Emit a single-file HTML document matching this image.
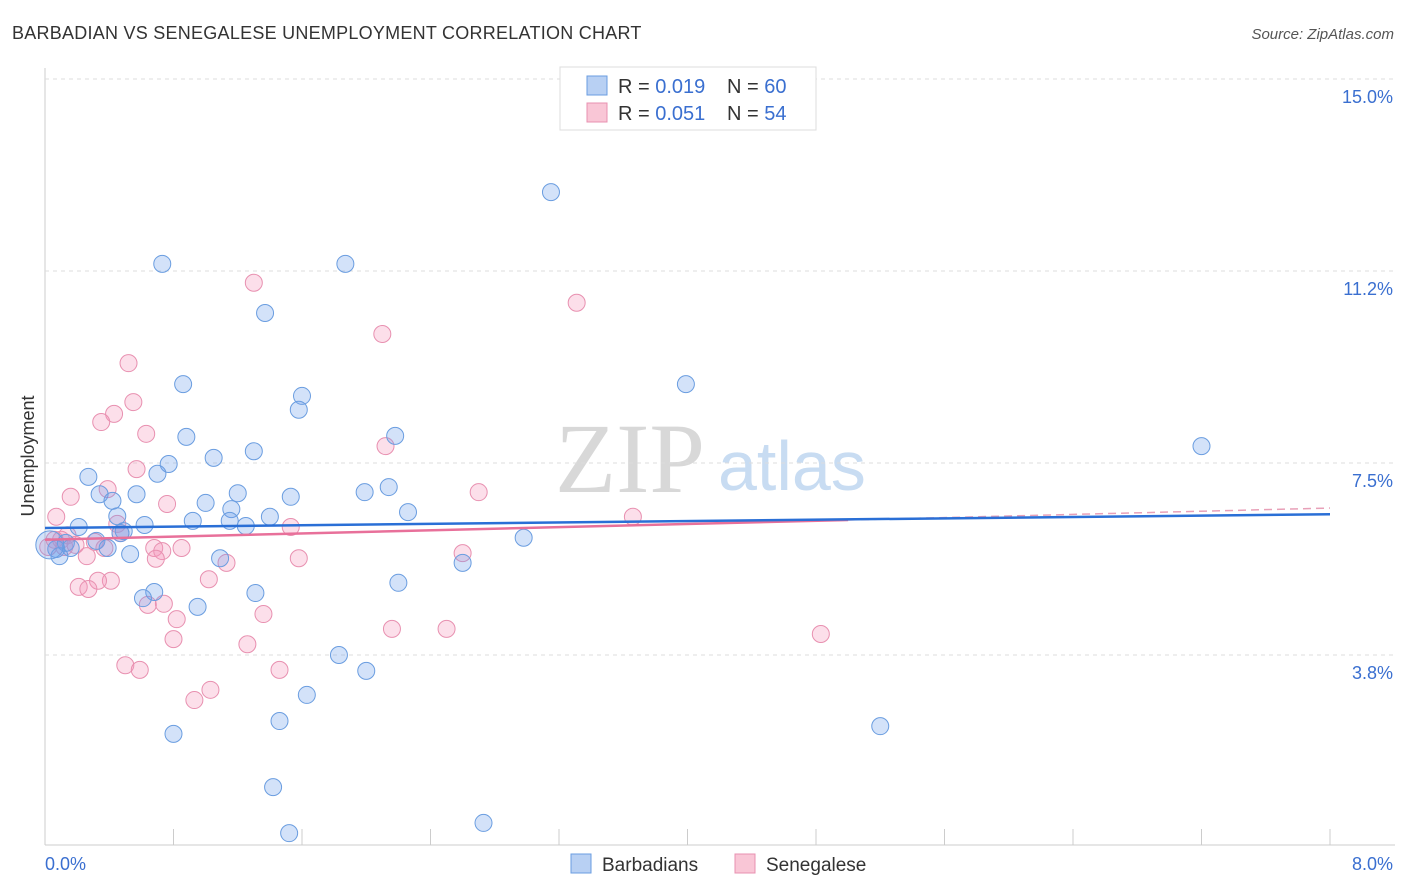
<!DOCTYPE html>
<html><head><meta charset="utf-8">
<style>
body{margin:0;background:#fff;font-family:"Liberation Sans",sans-serif;}
#wrap{position:relative;width:1406px;height:892px;overflow:hidden;}
</style></head>
<body>
<div id="wrap">
<svg id="chart" width="1406" height="892" xmlns="http://www.w3.org/2000/svg">
<text x="12" y="39" font-size="18" fill="#333" letter-spacing="0.25">BARBADIAN VS SENEGALESE UNEMPLOYMENT CORRELATION CHART</text>
<text x="1394" y="39" font-size="15" fill="#555" font-style="italic" text-anchor="end">Source: ZipAtlas.com</text>
<text x="555" y="492" font-size="100" fill="#d8d8d8" font-family="Liberation Serif,serif">ZIP</text>
<text x="718" y="490" font-size="70" fill="#c8dcf2">atlas</text>
<text x="34" y="456" font-size="18" fill="#333" transform="rotate(-90 34 456)" text-anchor="middle">Unemployment</text>
<g id="grid"></g><g id="ticks"></g><g id="pts"></g><g id="trend"></g>
<g>
<rect x="560" y="67" width="256" height="63" fill="#fff" stroke="#ddd"/>
<rect x="587" y="76" width="20" height="19" fill="#b8d0f3" stroke="#6a9de0"/>
<rect x="587" y="103" width="20" height="19" fill="#f9c6d6" stroke="#e890b0"/>
<text x="618" y="93" font-size="20" fill="#333">R = <tspan fill="#3a6fd0">0.019</tspan></text>
<text x="727" y="93" font-size="20" fill="#333">N = <tspan fill="#3a6fd0">60</tspan></text>
<text x="618" y="120" font-size="20" fill="#333">R = <tspan fill="#3a6fd0">0.051</tspan></text>
<text x="727" y="120" font-size="20" fill="#333">N = <tspan fill="#3a6fd0">54</tspan></text>
</g>
<g>
<rect x="571" y="854" width="20" height="19" fill="#b8d0f3" stroke="#6a9de0"/>
<text x="602" y="871" font-size="19" fill="#333">Barbadians</text>
<rect x="735" y="854" width="20" height="19" fill="#f9c6d6" stroke="#e890b0"/>
<text x="766" y="871" font-size="19" fill="#333">Senegalese</text>
</g>
</svg>
</div>
<script>
const xTickVals=[0,0.8,1.6,2.4,3.2,4.0,4.8,5.6,6.4,7.2,8.0];
const yTickVals=[3.75,7.5,11.25,15.0];
const yTickLabels=["3.8%","7.5%","11.2%","15.0%"];
const blueX=[3.15,0.73,1.87,1.37,0.86,3.99,1.60,1.58,0.88,2.18,7.20,1.30,1.05,0.77,0.70,0.27,0.34,0.57,1.20,1.99,2.14,1.53,0.42,1.00,1.16,2.26,0.45,1.40,0.92,1.15,0.62,1.25,0.21,0.49,2.98,0.32,0.13,0.16,0.39,0.07,0.09,0.53,1.09,2.60,2.20,1.31,0.68,0.61,0.95,1.83,2.00,1.63,1.46,5.20,0.80,1.42,2.73,1.52,0.47,0.03];
const blueY=[12.79,11.39,11.39,10.43,9.04,9.04,8.81,8.54,8.01,8.03,7.83,7.73,7.60,7.48,7.29,7.23,6.89,6.89,6.91,6.93,7.03,6.84,6.76,6.72,6.60,6.54,6.46,6.45,6.37,6.37,6.29,6.27,6.25,6.17,6.04,5.98,5.94,5.84,5.84,5.82,5.68,5.72,5.64,5.55,5.16,4.96,4.98,4.86,4.69,3.75,3.44,2.97,2.46,2.36,2.21,1.17,0.47,0.27,6.13,5.90];
const pinkX=[1.30,3.31,2.10,0.52,0.55,0.43,0.35,0.63,2.12,0.57,0.39,2.70,0.16,0.76,0.07,3.66,0.45,1.53,0.47,0.14,0.10,0.31,0.37,0.68,0.85,0.73,2.60,0.26,0.69,1.58,1.13,0.02,1.02,0.41,0.33,0.21,0.27,0.74,0.64,1.36,0.82,2.16,2.50,4.83,0.80,1.26,0.50,0.59,1.46,1.03,0.93,0.06,0.12,0.19];
const pinkY=[11.02,10.63,10.02,9.45,8.69,8.46,8.30,8.07,7.83,7.38,6.99,6.93,6.84,6.70,6.45,6.45,6.31,6.25,6.13,6.09,6.00,5.96,5.84,5.84,5.84,5.78,5.74,5.68,5.63,5.64,5.55,5.86,5.23,5.20,5.20,5.08,5.04,4.75,4.73,4.55,4.45,4.26,4.26,4.16,4.06,3.96,3.55,3.46,3.46,3.07,2.87,6.00,5.86,5.90];
const blueTrend=[6.23,6.50];
const pinkTrend=[6.00,6.62];
const pinkSolidEnd=5.0;
const NS="http://www.w3.org/2000/svg";
const X=v=>45+v*(1285/8);
const Y=v=>847-v*51.2;
function mk(t,a,p){const e=document.createElementNS(NS,t);for(const k in a)e.setAttribute(k,a[k]);p.appendChild(e);return e;}
const grid=document.getElementById('grid'),ticks=document.getElementById('ticks'),pts=document.getElementById('pts'),trend=document.getElementById('trend');
mk('line',{x1:45,y1:68,x2:45,y2:845,stroke:'#ccc'},grid);
mk('line',{x1:45,y1:845,x2:1395,y2:845,stroke:'#ccc'},grid);
yTickVals.forEach((v,i)=>{
 const l=mk('line',{x1:45,y1:Y(v),x2:1395,y2:Y(v),stroke:'#ddd','stroke-dasharray':'4,4'},grid);
 
 
 const t=mk('text',{x:1393,y:Y(v)+24,'font-size':18,fill:'#3a6fd0','text-anchor':'end'},ticks);t.textContent=yTickLabels[i];
 
 
});
xTickVals.forEach((v,i)=>{
 if(i>0){const l=mk('line',{x1:X(v),y1:829,x2:X(v),y2:845,stroke:'#ccc'},ticks);
 
 }
});
let t0=mk('text',{x:45,y:870,'font-size':18,fill:'#3a6fd0'},ticks);t0.textContent='0.0%';


let t1=mk('text',{x:1393,y:870,'font-size':18,fill:'#3a6fd0','text-anchor':'end'},ticks);t1.textContent='8.0%';


pinkX.forEach((v,i)=>{
 const c=mk('circle',{cx:X(v),cy:Y(pinkY[i]),r:8.5,fill:'rgba(244,150,185,0.3)',stroke:'#e890b0','stroke-width':1},pts);
 
 
});
blueX.forEach((v,i)=>{
 const c=mk('circle',{cx:X(v),cy:Y(blueY[i]),r:(i==blueX.length-1?14:8.5),fill:'rgba(110,160,235,0.3)',stroke:'#6a9de0','stroke-width':1},pts);
 
 
});
const pm=pinkTrend[0]+(pinkTrend[1]-pinkTrend[0])*pinkSolidEnd/8;
let pl=mk('line',{x1:X(0),y1:Y(pinkTrend[0]),x2:X(pinkSolidEnd),y2:Y(pm),stroke:'#e8709a','stroke-width':2.5},trend);


let pd=mk('line',{x1:X(pinkSolidEnd),y1:Y(pm),x2:X(8),y2:Y(pinkTrend[1]),stroke:'#e8a0b8','stroke-width':1.5,'stroke-dasharray':'8,5'},trend);


let bl=mk('line',{x1:X(0),y1:Y(blueTrend[0]),x2:X(8),y2:Y(blueTrend[1]),stroke:'#2a6fd6','stroke-width':2.5},trend);


</script>
</body></html>
